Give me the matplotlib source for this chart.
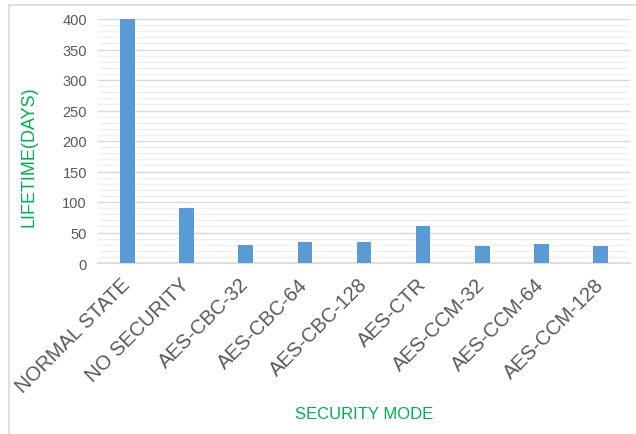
import matplotlib
matplotlib.use("Agg")
import matplotlib.pyplot as plt
from matplotlib.patches import Rectangle
from matplotlib.ticker import MultipleLocator

plt.rcParams["font.family"] = ["Liberation Sans", "DejaVu Sans"]

modes = ["NORMAL STATE", "NO SECURITY", "AES-CBC-32", "AES-CBC-64", "AES-CBC-128",
         "AES-CTR", "AES-CCM-32", "AES-CCM-64", "AES-CCM-128"]
lifetime_days = [400, 90, 30, 35, 35, 60, 28, 31, 28]

W, H = 636, 435
fig = plt.figure(figsize=(W / 100, H / 100), dpi=100)

# chart frame, clipped at right and bottom like the source screenshot
fig.patches.append(Rectangle((9 / W, -0.1), 1.2, 1.1 - 6 / H, transform=fig.transFigure,
                             fill=False, edgecolor="#D9D9D9", linewidth=1.2))

ax = fig.add_axes([98 / W, (H - 264) / H, (630 - 98) / W, 244 / H])
x = range(len(modes))
ax.bar(x, lifetime_days, width=0.25, color="#5B9BD5", zorder=3)

ax.set_ylim(0, 400)
ax.set_xlim(-0.5, len(modes) - 0.5)
ax.yaxis.set_major_locator(MultipleLocator(50))
ax.yaxis.set_minor_locator(MultipleLocator(10))
ax.grid(which="major", axis="y", color="#D9D9D9", linewidth=1.0, zorder=0)
ax.grid(which="minor", axis="y", color="#F0F0F0", linewidth=1.0, zorder=0)

for s in ["top", "right", "left"]:
    ax.spines[s].set_visible(False)
ax.spines["bottom"].set_color("#D9D9D9")
ax.spines["bottom"].set_linewidth(1.2)

ax.tick_params(axis="y", which="both", length=0, labelsize=10.5, labelcolor="#595959", pad=8)
ax.tick_params(axis="x", length=0, labelsize=14.5, labelcolor="#595959", pad=13)
ax.set_xticks(list(x))
ax.set_xticklabels(modes, rotation=45, ha="right", va="center", rotation_mode="anchor")

fig.text(29 / W, 1 - 157 / H, "LIFETIME(DAYS)", rotation=90, color="#00B050",
         fontsize=13, ha="center", va="center")
fig.text(364 / W, 1 - 415 / H, "SECURITY MODE", color="#00B050",
         fontsize=12, ha="center", va="center")

fig.savefig("out.png", dpi=100)
